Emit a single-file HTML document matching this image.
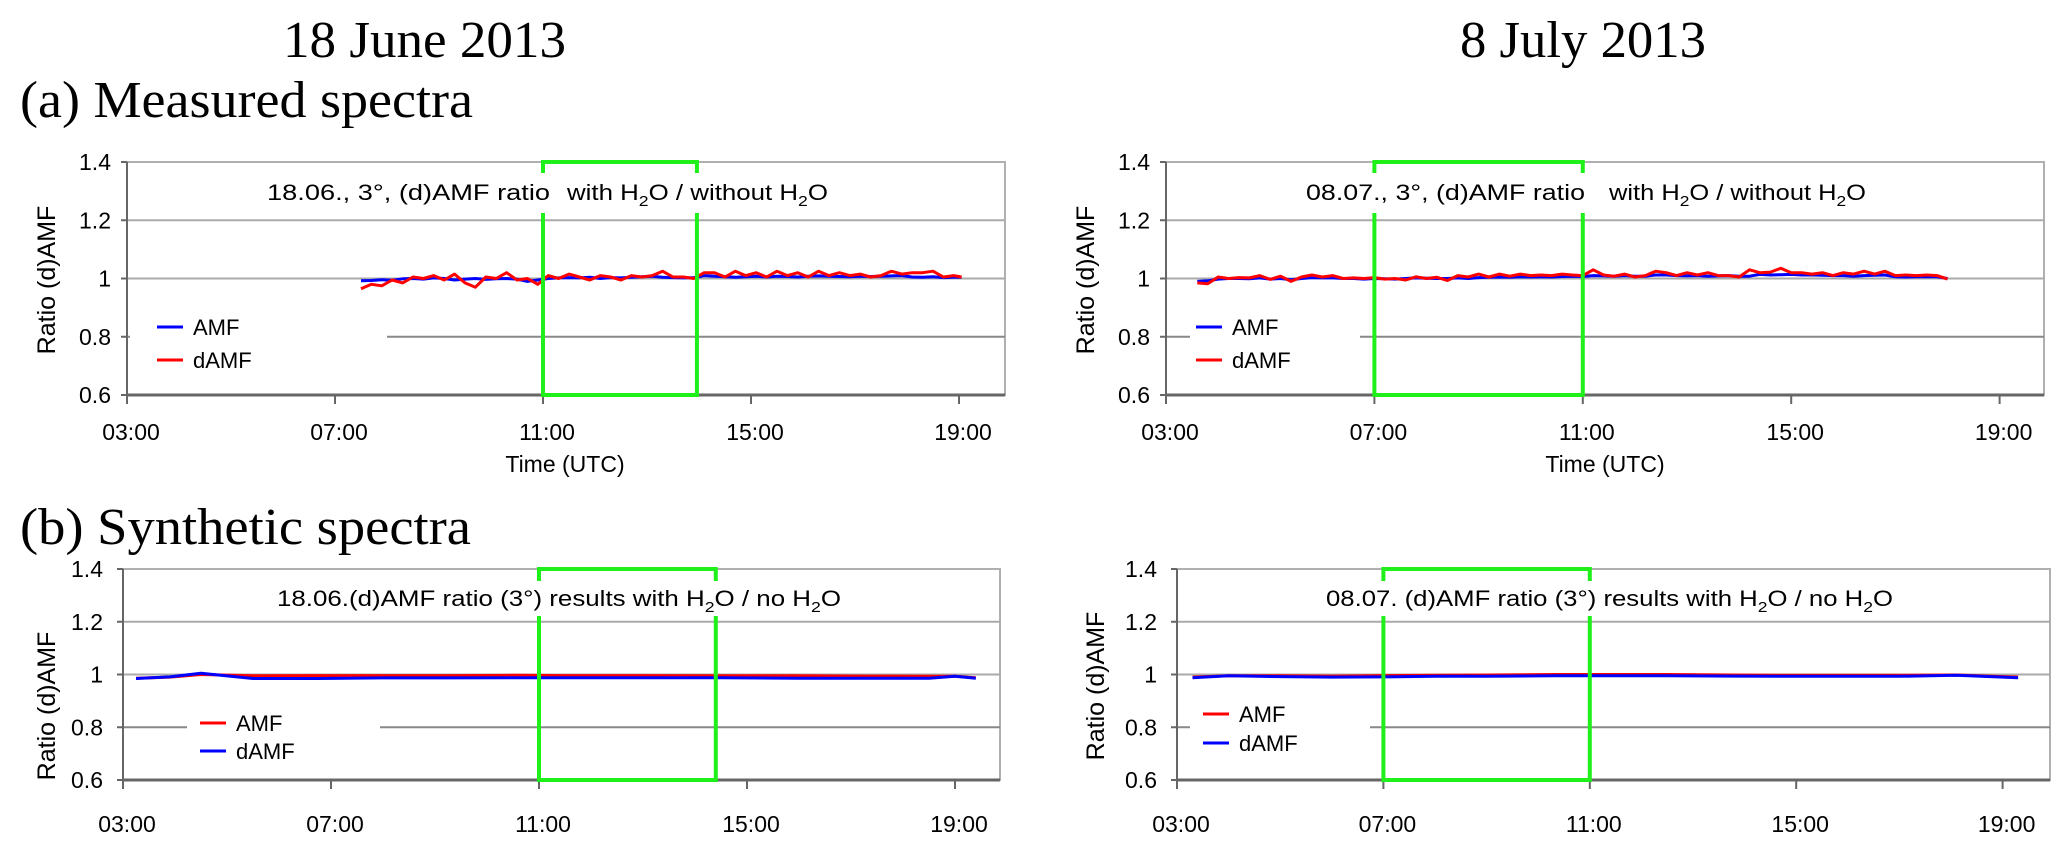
<!DOCTYPE html>
<html><head><meta charset="utf-8"><style>
html,body{margin:0;padding:0;background:#fff;}
svg{display:block;}
text{font-family:"Liberation Sans",Arial,sans-serif;fill:#000;}
.serif{font-family:"Liberation Serif","Times New Roman",serif;}
</style></head><body>
<svg id="fig" width="2067" height="852" viewBox="0 0 2067 852" xmlns="http://www.w3.org/2000/svg">
<text class="serif" x="283" y="57" font-size="52" textLength="283" lengthAdjust="spacingAndGlyphs">18 June 2013</text>
<text class="serif" x="1460" y="57" font-size="52" textLength="246" lengthAdjust="spacingAndGlyphs">8 July 2013</text>
<text class="serif" x="20" y="117" font-size="52" textLength="453" lengthAdjust="spacingAndGlyphs">(a) Measured spectra</text>
<text class="serif" x="20" y="544" font-size="52" textLength="451" lengthAdjust="spacingAndGlyphs">(b) Synthetic spectra</text>
</svg>
<script>
// ---- data ----
const yTicks = [0.6, 0.8, 1.0, 1.2, 1.4];
const yTickLabels = ["0.6", "0.8", "1", "1.2", "1.4"];
const xTicks = [3, 7, 11, 15, 19];
const xTickLabels = ["03:00", "07:00", "11:00", "15:00", "19:00"];

// (a) 18 June measured
const aJuneTimes = [7.5,7.7,7.9,8.1,8.3,8.5,8.7,8.9,9.1,9.3,9.5,9.7,9.9,10.1,10.3,10.5,10.7,10.9,11.1,11.3,11.5,11.7,11.9,12.1,12.3,12.5,12.7,12.9,13.1,13.3,13.5,13.7,13.9,14.1,14.3,14.5,14.7,14.9,15.1,15.3,15.5,15.7,15.9,16.1,16.3,16.5,16.7,16.9,17.1,17.3,17.5,17.7,17.9,18.1,18.3,18.5,18.7,18.9,19.05];
const aJuneAMF = [0.992,0.993,0.996,0.994,0.999,1.0,0.998,1.002,1.0,0.995,0.998,1.0,0.997,0.999,1.0,0.998,0.99,0.995,1.0,1.002,1.003,1.002,1.004,1.0,1.003,1.002,1.004,1.006,1.008,1.004,1.003,1.002,1.003,1.01,1.008,1.006,1.004,1.006,1.008,1.005,1.008,1.007,1.005,1.008,1.009,1.008,1.007,1.006,1.008,1.007,1.008,1.009,1.01,1.005,1.004,1.006,1.003,1.004,1.004];
const aJuneDAMF = [0.965,0.98,0.975,0.995,0.985,1.005,1.0,1.01,0.995,1.015,0.985,0.97,1.005,1.0,1.02,0.995,1.0,0.98,1.01,1.0,1.015,1.005,0.995,1.01,1.005,0.995,1.01,1.005,1.01,1.025,1.005,1.005,1.0,1.02,1.02,1.005,1.025,1.01,1.02,1.005,1.025,1.01,1.02,1.005,1.025,1.01,1.02,1.01,1.015,1.005,1.01,1.025,1.015,1.02,1.02,1.025,1.005,1.01,1.005];

// (a) 8 July measured
const aJulyTimes = [3.6,3.8,4.0,4.2,4.4,4.6,4.8,5.0,5.2,5.4,5.6,5.8,6.0,6.2,6.4,6.6,6.8,7.0,7.2,7.4,7.6,7.8,8.0,8.2,8.4,8.6,8.8,9.0,9.2,9.4,9.6,9.8,10.0,10.2,10.4,10.6,10.8,11.0,11.2,11.4,11.6,11.8,12.0,12.2,12.4,12.6,12.8,13.0,13.2,13.4,13.6,13.8,14.0,14.2,14.4,14.6,14.8,15.0,15.2,15.4,15.6,15.8,16.0,16.2,16.4,16.6,16.8,17.0,17.2,17.4,17.6,17.8,18.0];
const aJulyAMF = [0.99,0.992,0.998,1.0,1.0,0.999,1.002,0.998,1.0,0.996,1.0,1.003,1.002,1.002,1.0,1.0,0.998,1.0,0.999,0.998,1.0,1.002,1.001,1.0,1.0,1.002,1.0,1.003,1.004,1.005,1.004,1.006,1.005,1.006,1.005,1.007,1.008,1.007,1.01,1.009,1.008,1.01,1.008,1.008,1.012,1.012,1.01,1.009,1.01,1.008,1.009,1.01,1.008,1.008,1.014,1.012,1.013,1.014,1.012,1.012,1.011,1.01,1.01,1.008,1.01,1.011,1.012,1.006,1.005,1.006,1.006,1.006,1.0];
const aJulyDAMF = [0.985,0.982,1.005,1.0,1.003,1.002,1.01,0.997,1.008,0.99,1.005,1.012,1.005,1.01,1.0,1.002,1.0,1.003,0.998,1.0,0.995,1.006,1.0,1.004,0.993,1.01,1.005,1.015,1.005,1.015,1.008,1.015,1.01,1.012,1.01,1.015,1.012,1.01,1.03,1.012,1.008,1.015,1.005,1.01,1.025,1.02,1.01,1.02,1.012,1.02,1.01,1.01,1.005,1.03,1.02,1.022,1.035,1.02,1.02,1.015,1.02,1.01,1.02,1.015,1.025,1.015,1.025,1.01,1.012,1.01,1.012,1.01,0.998];

// (b) 18 June synthetic
const bJuneTimes = [3.25,3.9,4.5,5.5,6.75,8.0,9.25,10.5,11.5,13.0,14.5,16.0,17.25,18.5,19.0,19.4];
const bJuneAMF = [0.986,0.99,1.0,0.995,0.996,0.996,0.996,0.997,0.996,0.996,0.995,0.995,0.994,0.993,0.993,0.988];
const bJuneDAMF = [0.985,0.991,1.005,0.985,0.985,0.987,0.987,0.988,0.988,0.988,0.988,0.986,0.986,0.986,0.993,0.986];

// (b) 8 July synthetic
const bJulyTimes = [3.3,4.0,5.0,6.0,7.0,8.0,9.0,10.3,11.5,12.5,13.8,15.0,16.0,17.0,18.1,19.3];
const bJulyAMF = [0.99,0.995,0.995,0.994,0.996,0.997,0.998,1.0,1.0,1.0,0.998,0.997,0.997,0.997,0.998,0.99];
const bJulyDAMF = [0.988,0.995,0.992,0.99,0.991,0.993,0.993,0.995,0.995,0.995,0.994,0.993,0.993,0.993,0.997,0.988];

const NS = "http://www.w3.org/2000/svg";
const svg = document.getElementById('fig');
function mk(tag, attrs, parent){
  const e = document.createElementNS(NS, tag);
  for (const k in attrs) e.setAttribute(k, attrs[k]);
  (parent||svg).appendChild(e);
  return e;
}

function chart(c){
  const g = mk('g', {});
  
  
  const xs = t => c.left + (t - 3) * c.pxh;
  const ys = v => c.bottom - (v - 0.6) / 0.8 * (c.bottom - c.top);
  // frame
  const fr = mk('rect', {x:c.left, y:c.top, width:c.right-c.left, height:c.bottom-c.top, fill:'none', stroke:'#b0b0b0', 'stroke-width':2}, g);
  
  
  // gridlines
  yTicks.forEach((v,i) => {
    const y = ys(v);
    if (i>0 && i<4) {
      if (v === 0.8) {
        const l1 = mk('line', {x1:c.left, x2:c.gap[0], y1:y, y2:y, stroke:'#888', 'stroke-width':2}, g);
        
        
        const l2 = mk('line', {x1:c.gap[1], x2:c.right, y1:y, y2:y, stroke:'#888', 'stroke-width':2}, g);
        
        
      } else {
        const l = mk('line', {x1:c.left, x2:c.right, y1:y, y2:y, stroke:'#aaa', 'stroke-width':2}, g);
        
        
      }
    }
    const tk = mk('line', {x1:c.left-6, x2:c.left, y1:y, y2:y, stroke:'#666', 'stroke-width':2}, g);
    
    
    const t = mk('text', {x:c.left-c.ylOff, y:y+8, 'font-size':23, 'text-anchor':'end'}, g);
    
    
    t.textContent = yTickLabels[i];
  });
  // axes
  const ya = mk('line', {x1:c.left, x2:c.left, y1:c.top, y2:c.bottom+8, stroke:'#666', 'stroke-width':2}, g);
  
  
  const xa = mk('line', {x1:c.left, x2:c.right, y1:c.bottom, y2:c.bottom, stroke:'#666', 'stroke-width':3}, g);
  
  
  xTicks.forEach((t,i) => {
    const x = xs(t);
    const tk = mk('line', {x1:x, x2:x, y1:c.bottom, y2:c.bottom+9, stroke:'#666', 'stroke-width':2}, g);
    
    
    const lb = mk('text', {x:x+4, y:c.xlY, 'font-size':23, 'text-anchor':'middle'}, g);
    
    
    lb.textContent = xTickLabels[i];
  });
  if (c.xtitle) {
    const xt = mk('text', {x:c.xtitle[0], y:c.xtitle[1], 'font-size':23, 'text-anchor':'middle'}, g);
    
    
    xt.textContent = 'Time (UTC)';
  }
  const yt = mk('text', {x:0, y:0, 'font-size':25, 'text-anchor':'middle', transform:`translate(${c.ytitle[0]},${c.ytitle[1]}) rotate(-90)`}, g);
  
  
  yt.textContent = 'Ratio (d)AMF';
  // series
  c.series.forEach(s => {
    const pts = c.times.map((t,i) => xs(t).toFixed(1) + ',' + ys(s.vals[i]).toFixed(1)).join(' ');
    const p = mk('polyline', {points:pts, fill:'none', stroke:s.color, 'stroke-width':3, 'stroke-linejoin':'round'}, g);
    
    
  });
  // green box
  const bx0 = xs(c.box[0]), bx1 = xs(c.box[1]);
  const gb = mk('path', {d:`M${bx0},${c.bgap[0]} V${c.top} H${bx1} V${c.bgap[0]} M${bx0},${c.bgap[1]} V${c.bottom} H${bx1} V${c.bgap[1]}`, fill:'none', stroke:'#1ff01a', 'stroke-width':4}, g);
  
  
  // annotation
  c.notes.forEach(n => {
    const t = mk('text', {x:n.x, y:n.y, 'font-size':22, textLength:n.w, lengthAdjust:'spacingAndGlyphs'}, g);
    
    
    t.innerHTML = n.html;
  });
  // legend
  c.legend.forEach(L => {
    const l = mk('line', {x1:L.x, x2:L.x+26, y1:L.y, y2:L.y, stroke:L.color, 'stroke-width':3}, g);
    
    
    const t = mk('text', {x:L.x+36, y:L.y+8, 'font-size':22}, g);
    
    
    t.textContent = L.label;
  });
}

const H2O = 'H<tspan font-size="15" dy="6">2</tspan><tspan dy="-6">O</tspan>';

chart({name:'chart-a-june', left:127, right:1005, top:162, bottom:395, pxh:52, ylOff:16, xlY:440,
  gap:[130,387], xtitle:[565,472], ytitle:[55,280], box:[11,13.96], bgap:[173,213],
  times:aJuneTimes,
  series:[{name:'series-amf', color:'#0000ff', vals:aJuneAMF},{name:'series-damf', color:'#ff0000', vals:aJuneDAMF}],
  notes:[{x:267,y:200,w:283,html:'18.06., 3°,  (d)AMF ratio'},{x:567,y:200,w:261,html:'with '+H2O+' / without '+H2O}],
  legend:[{x:157,y:327,color:'#0000ff',label:'AMF'},{x:157,y:360,color:'#ff0000',label:'dAMF'}]});

chart({name:'chart-a-july', left:1166, right:2044, top:162, bottom:395, pxh:52.1, ylOff:16, xlY:440,
  gap:[1190,1360], xtitle:[1605,472], ytitle:[1094,280], box:[7,11], bgap:[173,213],
  times:aJulyTimes,
  series:[{name:'series-amf', color:'#0000ff', vals:aJulyAMF},{name:'series-damf', color:'#ff0000', vals:aJulyDAMF}],
  notes:[{x:1306,y:200,w:279,html:'08.07., 3°,  (d)AMF ratio'},{x:1609,y:200,w:257,html:'with '+H2O+' / without '+H2O}],
  legend:[{x:1196,y:327,color:'#0000ff',label:'AMF'},{x:1196,y:360,color:'#ff0000',label:'dAMF'}]});

chart({name:'chart-b-june', left:123, right:1000, top:569, bottom:780, pxh:52, ylOff:20, xlY:832,
  gap:[187,380], xtitle:null, ytitle:[55,706], box:[11,14.4], bgap:[581,616],
  times:bJuneTimes,
  series:[{name:'series-amf', color:'#ff0000', vals:bJuneAMF},{name:'series-damf', color:'#0000ff', vals:bJuneDAMF}],
  notes:[{x:277,y:606,w:564,html:'18.06.(d)AMF ratio  (3°) results with '+H2O+' / no '+H2O}],
  legend:[{x:200,y:723,color:'#ff0000',label:'AMF'},{x:200,y:751,color:'#0000ff',label:'dAMF'}]});

chart({name:'chart-b-july', left:1177, right:2050, top:569, bottom:780, pxh:51.6, ylOff:20, xlY:832,
  gap:[1190,1370], xtitle:null, ytitle:[1104,686], box:[7,11], bgap:[581,616],
  times:bJulyTimes,
  series:[{name:'series-amf', color:'#ff0000', vals:bJulyAMF},{name:'series-damf', color:'#0000ff', vals:bJulyDAMF}],
  notes:[{x:1326,y:606,w:567,html:'08.07. (d)AMF ratio (3°) results with '+H2O+' / no '+H2O}],
  legend:[{x:1203,y:714,color:'#ff0000',label:'AMF'},{x:1203,y:743,color:'#0000ff',label:'dAMF'}]});
</script>
</body></html>
